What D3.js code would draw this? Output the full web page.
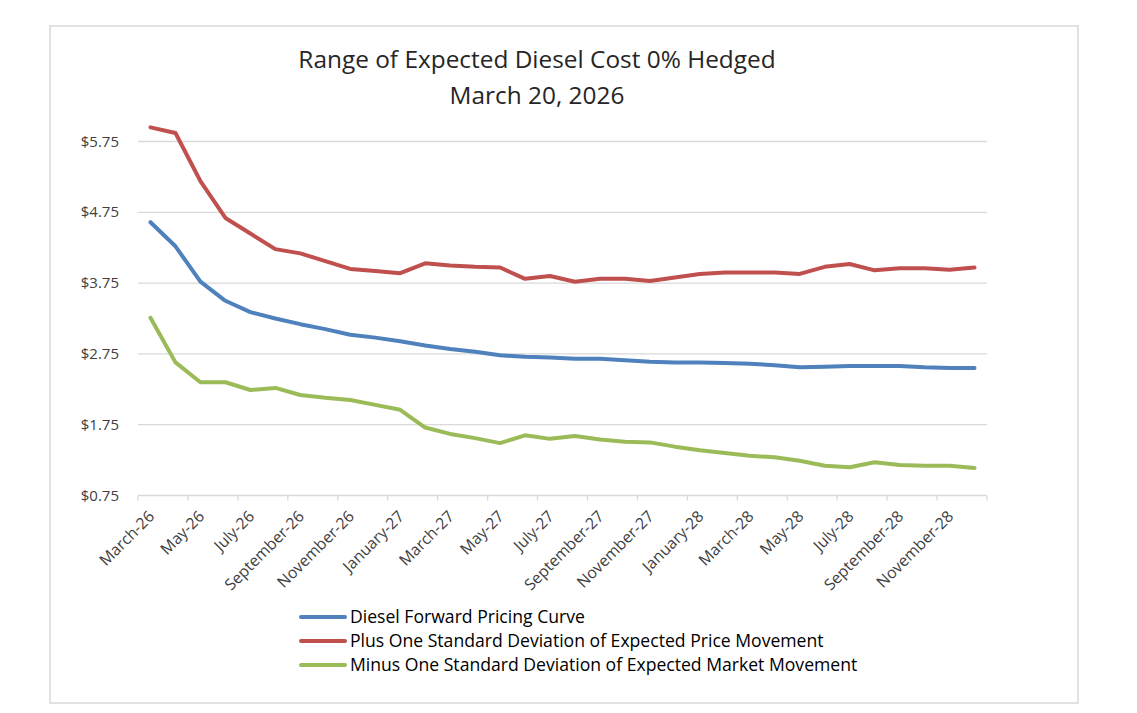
<!DOCTYPE html>
<html>
<head>
<meta charset="utf-8">
<script src="https://cdn.jsdelivr.net/npm/d3@7"></script>
<style>
  body { margin: 0; background: #fff; }
  svg { display: block; font-family: "Open Sans", sans-serif; }
</style>
</head>
<body>
<svg width="1137" height="713" viewBox="0 0 1137 713"></svg>
<script>
// months March-26 .. December-28
const monthNames = ["January", "February", "March", "April", "May", "June", "July",
    "August", "September", "October", "November", "December"];
const months = [];
for (let i = 0; i < 34; i++) {
    const m = (2 + i) % 12, y = 26 + Math.floor((2 + i) / 12);
    months.push(`${monthNames[m]}-${y}`);
}

const forwardCurve = [4.61, 4.27, 3.77, 3.50, 3.34, 3.25, 3.17, 3.10, 3.02, 2.98, 2.93, 2.87,
    2.82, 2.78, 2.73, 2.71, 2.70, 2.68, 2.68, 2.66, 2.64, 2.63, 2.63, 2.62,
    2.61, 2.59, 2.56, 2.57, 2.58, 2.58, 2.58, 2.56, 2.55, 2.55];
const plusOneSD = [5.95, 5.87, 5.19, 4.67, 4.45, 4.23, 4.17, 4.06, 3.95, 3.92, 3.89, 4.03,
    4.00, 3.98, 3.97, 3.81, 3.85, 3.77, 3.81, 3.81, 3.78, 3.83, 3.88, 3.90,
    3.90, 3.90, 3.88, 3.98, 4.02, 3.93, 3.96, 3.96, 3.94, 3.97];
const minusOneSD = [3.26, 2.63, 2.35, 2.35, 2.24, 2.27, 2.17, 2.13, 2.10, 2.03, 1.96, 1.71,
    1.62, 1.56, 1.49, 1.60, 1.55, 1.59, 1.54, 1.51, 1.50, 1.44, 1.39, 1.35,
    1.31, 1.29, 1.24, 1.17, 1.15, 1.22, 1.18, 1.17, 1.17, 1.14];
const yTicks = [0.75, 1.75, 2.75, 3.75, 4.75, 5.75];

const series = [
    { name: "Diesel Forward Pricing Curve", values: forwardCurve, color: "#4f81bd" },
    { name: "Plus One Standard Deviation of Expected Price Movement", values: plusOneSD, color: "#c0504d" },
    { name: "Minus One Standard Deviation of Expected Market Movement", values: minusOneSD, color: "#9bbb59" }
];

const svg = d3.select("svg");

// chart border
svg.append("rect")
    .attr("x", 50).attr("y", 26)
    .attr("width", 1028).attr("height", 677)
    .attr("fill", "#fff").attr("stroke", "#d9d9d9").attr("stroke-width", 1.5);

// title
const title = svg.append("text")
    .attr("text-anchor", "middle")
    .attr("font-size", 24.4)
    .attr("fill", "#262626");
title.append("tspan").attr("x", 537).attr("y", 68).text("Range of Expected Diesel Cost 0% Hedged");
title.append("tspan").attr("x", 537).attr("y", 104).text("March 20, 2026");

const x = d3.scaleBand().domain(months).range([138, 987]);
const y = d3.scaleLinear().domain([0.75, 5.75]).range([495.5, 141.5]);

// gridlines
svg.append("g").selectAll("line")
    .data(yTicks.slice(1))
    .join("line")
    .attr("x1", 138).attr("x2", 987)
    .attr("y1", d => y(d)).attr("y2", d => y(d))
    .attr("stroke", "#d9d9d9").attr("stroke-width", 1.3);

// y axis labels
svg.append("g").selectAll("text")
    .data(yTicks)
    .join("text")
    .attr("x", 119)
    .attr("y", d => y(d) + 5)
    .attr("text-anchor", "end")
    .attr("font-size", 15)
    .attr("fill", "#404040")
    .text(d => "$" + d.toFixed(2));

// x axis
svg.append("line")
    .attr("x1", 138).attr("x2", 987)
    .attr("y1", y(0.75)).attr("y2", y(0.75))
    .attr("stroke", "#d9d9d9").attr("stroke-width", 1.3);

const tickIdx = d3.range(0, months.length + 1, 2);
svg.append("g").selectAll("line")
    .data(tickIdx)
    .join("line")
    .attr("x1", i => 138 + i * x.step()).attr("x2", i => 138 + i * x.step())
    .attr("y1", y(0.75)).attr("y2", y(0.75) + 5)
    .attr("stroke", "#d9d9d9").attr("stroke-width", 1.3);

svg.append("g").selectAll("text")
    .data(months.filter((m, i) => i % 2 === 0))
    .join("text")
    .attr("transform", d => `translate(${x(d) + x.bandwidth() / 2 + 1},${y(0.75) + 18}) rotate(-45)`)
    .attr("text-anchor", "end")
    .attr("dy", "0.35em")
    .attr("font-size", 15.8)
    .attr("fill", "#404040")
    .text(d => d);

// lines
const line = d3.line()
    .x((d, i) => x(months[i]) + x.bandwidth() / 2)
    .y(d => y(d));

svg.append("g").selectAll("path")
    .data(series)
    .join("path")
    .attr("d", d => line(d.values))
    .attr("fill", "none")
    .attr("stroke", d => d.color)
    .attr("stroke-width", 4)
    .attr("stroke-linejoin", "round")
    .attr("stroke-linecap", "round");

// legend
const legend = svg.append("g").selectAll("g")
    .data(series)
    .join("g")
    .attr("transform", (d, i) => `translate(300,${617 + i * 24})`);

legend.append("line")
    .attr("x1", 1).attr("x2", 45)
    .attr("stroke", d => d.color)
    .attr("stroke-width", 4)
    .attr("stroke-linecap", "round");

legend.append("text")
    .attr("x", 50).attr("y", 6)
    .attr("font-size", 17.6)
    .attr("fill", "#000")
    .text(d => d.name);
</script>
</body>
</html>
